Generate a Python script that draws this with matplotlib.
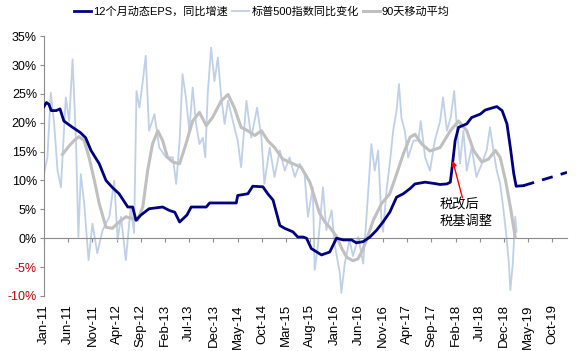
import matplotlib
matplotlib.use("Agg")
import matplotlib.pyplot as plt
import pandas as pd

plt.rcParams['font.family'] = ['Liberation Sans', 'Noto Sans CJK SC', 'DejaVu Sans']

# x values are months since Jan-2011
tick_labels = pd.date_range('2011-01-01', periods=22, freq='5MS').strftime('%b-%y').tolist()
tick_months = [5 * i for i in range(len(tick_labels))]

# 12-month forward EPS YoY growth (%)
eps = [(0, 22.8), (0.5, 23.5), (1.0, 23.2), (1.5, 22.1), (2.5, 22.1), (3.3, 22.4), (4.1, 20.3),
       (5.9, 19.2), (7.5, 18.3), (8.6, 17.4), (9.7, 15.2), (11.4, 12.9), (12.8, 10.0), (14.1, 8.8),
       (15.5, 7.7), (17.3, 5.4), (18.3, 5.4), (19.0, 3.1), (20.0, 4.0), (21.7, 5.1), (24.5, 5.4),
       (25.9, 4.8), (27.0, 4.5), (28.0, 2.8), (29.5, 4.0), (30.4, 5.4), (33.5, 5.4), (34.2, 6.1),
       (39.7, 6.1), (40.0, 7.4), (42.1, 7.7), (43.1, 9.0), (45.2, 8.9), (46.2, 7.7), (47.3, 6.6),
       (48.7, 2.2), (49.7, 1.7), (51.4, 1.1), (52.4, 0.2), (53.5, 0.2), (54.2, 0.0), (55.2, -1.8),
       (57.3, -2.9), (59.0, -2.4), (60.4, 0.0), (61.8, -0.3), (63.5, -0.3), (64.5, -0.8), (65.9, -0.6),
       (67.3, 0.2), (68.7, 1.4), (70.0, 2.8), (71.4, 4.5), (72.8, 7.1), (74.2, 7.7), (75.6, 8.6),
       (76.6, 9.4), (78.7, 9.7), (80.4, 9.5), (81.8, 9.3), (83.2, 9.4), (83.9, 9.7), (84.2, 11.7),
       (84.9, 16.9), (85.6, 19.2), (87.3, 19.8), (88.3, 20.9), (90.1, 21.5), (91.1, 22.2), (93.5, 22.8),
       (94.6, 22.1), (95.6, 19.8), (96.3, 15.7), (97.0, 11.2), (97.5, 9.0), (99.0, 9.1)]
eps_forecast = [(99.0, 9.1), (108.0, 11.4)]

# S&P 500 YoY change (%)
sp = [(0, 11.1), (0.7, 14.0), (1.4, 25.2), (2.1, 19.8), (2.8, 11.7), (3.5, 8.8), (3.9, 15.2),
      (4.5, 24.4), (5.2, 20.3), (5.9, 31.0), (6.6, 16.9), (7.1, 0.2), (7.6, 11.1), (8.3, 6.0),
      (9.2, -3.8), (10.0, 2.5), (11.0, -2.6), (12.1, 1.4), (13.5, 3.7), (14.5, 10.0), (15.2, -0.3),
      (15.9, 3.7), (16.9, -3.8), (17.9, 5.4), (18.6, 0.9), (19.1, 25.5), (19.7, 22.6), (20.4, 27.2),
      (21.0, 31.6), (21.7, 18.6), (22.8, 21.5), (23.8, 15.7), (25.2, 14.0), (26.6, 14.0), (27.3, 9.4),
      (28.0, 16.9), (28.6, 28.4), (29.3, 24.4), (30.0, 18.6), (30.7, 26.1), (31.4, 19.8), (32.1, 16.3),
      (32.8, 17.4), (33.3, 14.0), (33.8, 24.9), (34.5, 33.0), (35.2, 27.2), (35.9, 31.3), (36.6, 24.4),
      (37.3, 19.8), (38.0, 23.8), (39.0, 20.3), (40.0, 16.9), (40.7, 12.3), (41.8, 23.8), (42.8, 17.4),
      (44.0, 22.6), (44.9, 17.4), (45.5, 9.4), (46.6, 15.7), (47.6, 10.6), (48.7, 15.2), (49.7, 11.7),
      (50.7, 14.0), (51.8, 10.6), (52.8, 12.9), (53.8, 11.1), (54.5, 3.7), (55.5, 8.8), (55.9, -5.5),
      (56.6, -1.0), (57.6, 8.8), (58.3, 1.4), (59.4, 4.8), (60.0, -1.0), (61.1, -6.1), (61.4, -9.5),
      (62.1, -4.4), (63.1, -0.3), (63.8, -3.1), (64.9, 0.2), (65.9, -4.4), (66.6, 3.7), (67.6, 16.3),
      (68.3, 11.7), (69.0, 15.2), (69.7, 2.8), (70.0, 1.1), (70.8, 8.8), (71.4, 12.9), (72.1, 18.6),
      (72.8, 22.1), (73.3, 26.7), (73.8, 20.9), (74.5, 18.6), (75.2, 14.0), (76.3, 16.9), (77.3, 16.9),
      (77.8, 20.3), (78.7, 14.0), (79.7, 11.7), (80.7, 16.9), (81.8, 20.3), (82.4, 24.4), (83.2, 18.6),
      (84.0, 21.0), (84.7, 25.5), (85.2, 19.8), (85.9, 12.9), (86.6, 18.6), (87.3, 11.7), (88.3, 15.7),
      (89.3, 10.6), (90.4, 12.9), (91.4, 15.2), (92.1, 19.2), (92.8, 15.2), (93.5, 11.7), (94.2, 9.4),
      (94.9, 4.8), (95.5, 0.2), (96.0, -4.4), (96.3, -9.0), (96.8, -4.4), (97.3, 3.7), (97.6, 1.1)]

# 90-day moving average of S&P 500 YoY change (%)
ma = [(3.8, 14.5), (5.2, 16.0), (6.2, 16.9), (7.2, 17.6), (8.3, 16.9), (9.3, 14.0), (10.4, 10.0),
      (11.4, 6.0), (12.8, 1.9), (14.1, 1.7), (15.5, 2.8), (16.9, 3.7), (18.3, 3.4), (19.3, 3.1),
      (20.4, 5.4), (21.4, 11.7), (22.4, 16.3), (23.5, 18.6), (24.5, 16.9), (25.5, 14.0), (26.6, 13.2),
      (28.0, 12.9), (29.3, 16.3), (30.7, 20.3), (32.1, 21.8), (33.5, 19.5), (34.8, 20.9), (36.6, 23.8),
      (38.0, 24.9), (39.3, 22.6), (40.7, 19.2), (42.1, 18.6), (43.5, 17.8), (44.9, 18.6), (46.2, 16.9),
      (47.6, 15.7), (49.3, 13.7), (51.4, 12.9), (53.1, 12.3), (54.9, 9.7), (56.9, 4.3), (58.0, 2.8),
      (59.0, 1.9), (60.4, 0.3), (61.5, -1.8), (62.5, -3.3), (63.8, -3.9), (64.8, -3.6), (65.6, -2.4),
      (66.6, -0.3), (68.0, 3.1), (69.7, 6.0), (71.4, 7.7), (72.8, 11.1), (74.2, 14.6), (75.6, 17.5),
      (76.6, 18.0), (78.0, 16.3), (79.7, 15.1), (81.8, 15.7), (83.9, 18.6), (85.6, 20.3), (87.3, 18.6),
      (88.7, 15.2), (90.4, 13.2), (91.8, 13.7), (93.2, 15.2), (94.2, 14.0), (95.3, 10.0), (96.3, 5.4),
      (97.3, 0.2)]

y_ticks = [-10, -5, 0, 5, 10, 15, 20, 25, 30, 35]

NAVY = '#000080'
LIGHT = '#BFD0E8'
GREY = '#C0C0C0'
AXIS = '#8C8C8C'

fig = plt.figure(figsize=(5.76, 3.51), dpi=100)
ax = fig.add_axes([0.0764, 0.157, 0.908, 0.740])

def xy(pairs):
    return [p[0] for p in pairs], [p[1] for p in pairs]

l2, = ax.plot(*xy(sp), color=LIGHT, lw=1.3, label='标普500指数同比变化', zorder=2)
l3, = ax.plot(*xy(ma), color=GREY, lw=2.2, label='90天移动平均', zorder=3)
l1, = ax.plot(*xy(eps), color=NAVY, lw=2.0, label='12个月动态EPS，同比增速', zorder=4)
ax.plot(*xy(eps_forecast), color=NAVY, lw=2.0, ls=(0, (4, 3)), zorder=4)

ax.set_xlim(0, 108)
ax.set_ylim(-10, 35)

for s in ['top', 'right']:
    ax.spines[s].set_visible(False)
ax.spines['left'].set_color(AXIS)
ax.spines['bottom'].set_color(AXIS)
ax.spines['bottom'].set_position(('data', 0))

ax.set_yticks(y_ticks)
ax.set_yticklabels([f'{v}%' for v in y_ticks])
for lab, v in zip(ax.get_yticklabels(), y_ticks):
    lab.set_color('#C00000' if v < 0 else 'black')
ax.tick_params(axis='y', direction='out', length=3, color=AXIS, labelsize=9, pad=2)

ax.set_xticks(tick_months)
ax.tick_params(axis='x', direction='out', length=3, color=AXIS, labelbottom=False)

sec = ax.secondary_xaxis(0.0)
sec.set_xticks(tick_months)
sec.set_xticklabels(tick_labels, rotation=90)
sec.spines['bottom'].set_visible(False)
sec.tick_params(axis='x', length=0, labelsize=9.5, pad=6)

ax.annotate('', xy=(84.4, 13.4), xytext=(86.4, 7.0),
            arrowprops=dict(arrowstyle='-|>', color='red', lw=1.0, mutation_scale=7,
                            shrinkA=0, shrinkB=0), zorder=5)
ax.text(81.6, 4.4, '税改后\n税基调整', ha='left', va='center', fontsize=9.5,
        linespacing=1.4, family=['Noto Sans CJK SC', 'DejaVu Sans'], zorder=5)

fig.legend(handles=[l1, l2, l3], loc='center', bbox_to_anchor=(0.455, 0.966), ncol=3,
           frameon=False, handlelength=1.5, handletextpad=0.2,
           columnspacing=0.4, prop={'family': ['Liberation Sans', 'Noto Sans CJK SC'], 'size': 8})

fig.savefig('out.png', dpi=100)
